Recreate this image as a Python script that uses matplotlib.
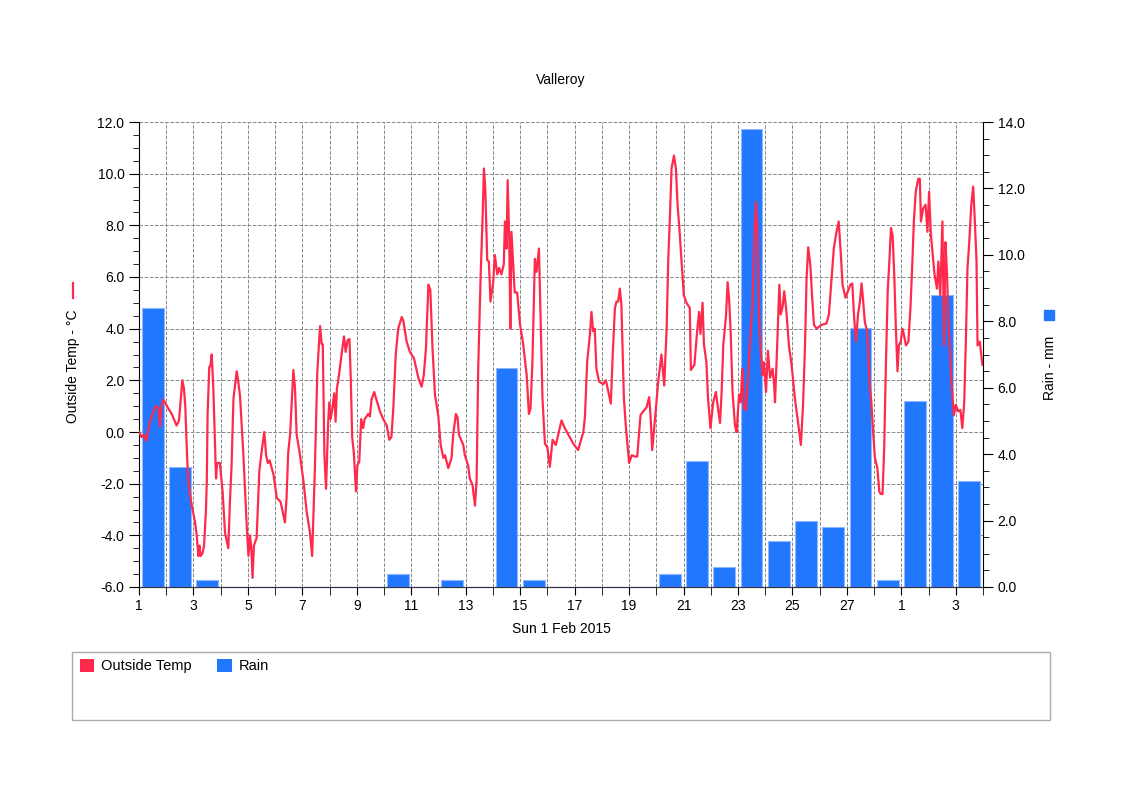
import matplotlib
matplotlib.use("Agg")
import matplotlib.pyplot as plt
import matplotlib.dates as mdates
from matplotlib.patches import Patch, Rectangle
from matplotlib.lines import Line2D
from matplotlib.ticker import MultipleLocator, FormatStrFormatter, FuncFormatter
from datetime import datetime, timedelta

plt.rcParams['font.family'] = ['Liberation Sans', 'DejaVu Sans']

# ---- data ----
start = datetime(2015, 2, 1)

rain_mm = [8.4, 3.6, 0.2, 0, 0, 0, 0, 0, 0, 0.4, 0, 0.2, 0, 6.6, 0.2, 0, 0, 0, 0,
           0.4, 3.8, 0.6, 13.8, 1.4, 2.0, 1.8, 7.8, 0.2, 5.6, 8.8, 3.2]

# time in days since 1 Feb 00:00, outside temperature in degC
temp_days = [
    0.00, 0.10, 0.18, 0.26, 0.33, 0.40, 0.50, 0.59, 0.66, 0.72, 0.77, 0.82, 0.89, 0.98,
    1.08, 1.20, 1.30, 1.38, 1.47, 1.55, 1.59, 1.65, 1.70, 1.76, 1.81, 1.93, 2.06, 2.12,
    2.18, 2.22, 2.26, 2.33, 2.39, 2.46, 2.49, 2.52, 2.58, 2.63, 2.67, 2.73, 2.83, 2.87,
    2.97, 3.07, 3.16, 3.28, 3.31, 3.34, 3.40, 3.47, 3.59, 3.64, 3.71, 3.83, 3.88, 3.96,
    4.02, 4.08, 4.13, 4.17, 4.22, 4.32, 4.42, 4.46, 4.50, 4.60, 4.67, 4.73, 4.80, 4.94,
    5.06, 5.20, 5.36, 5.42, 5.48, 5.55, 5.67, 5.73, 5.79, 5.90, 6.04, 6.16, 6.28, 6.36,
    6.46, 6.55, 6.65, 6.71, 6.75, 6.81, 6.87, 6.95, 6.99, 7.04, 7.10, 7.17, 7.22, 7.27,
    7.32, 7.44, 7.53, 7.59, 7.66, 7.73, 7.78, 7.83, 7.89, 7.97, 8.02, 8.09, 8.16, 8.23,
    8.29, 8.42, 8.48, 8.54, 8.64, 8.72, 8.85, 8.97, 9.10, 9.19, 9.27, 9.34, 9.43, 9.52,
    9.65, 9.71, 9.83, 9.95, 10.10, 10.26, 10.38, 10.46, 10.54, 10.63, 10.70, 10.78,
    10.87, 10.99, 11.08, 11.18, 11.24, 11.36, 11.48, 11.54, 11.64, 11.70, 11.75, 11.91,
    11.97, 12.09, 12.15, 12.25, 12.34, 12.40, 12.46, 12.55, 12.62, 12.67, 12.72, 12.79,
    12.85, 12.91, 13.01, 13.07, 13.16, 13.23, 13.31, 13.40, 13.44, 13.50, 13.54, 13.60,
    13.64, 13.68, 13.74, 13.80, 13.89, 13.99, 14.11, 14.24, 14.32, 14.38, 14.45, 14.54,
    14.60, 14.69, 14.75, 14.82, 14.91, 15.00, 15.09, 15.19, 15.31, 15.52, 15.64, 15.77,
    15.95, 16.13, 16.32, 16.38, 16.46, 16.56, 16.62, 16.68, 16.74, 16.80, 16.90, 17.05,
    17.15, 17.26, 17.33, 17.40, 17.48, 17.54, 17.60, 17.66, 17.72, 17.81, 17.88, 18.00,
    18.10, 18.22, 18.30, 18.42, 18.52, 18.64, 18.74, 18.79, 18.85, 18.91, 18.99, 19.07,
    19.19, 19.29, 19.38, 19.44, 19.50, 19.56, 19.65, 19.72, 19.78, 19.84, 19.93, 20.01,
    20.11, 20.23, 20.27, 20.40, 20.50, 20.57, 20.62, 20.70, 20.75, 20.84, 20.90, 20.99,
    21.09, 21.19, 21.28, 21.34, 21.40, 21.46, 21.56, 21.62, 21.68, 21.73, 21.80, 21.89,
    21.95, 22.04, 22.10, 22.16, 22.23, 22.29, 22.37, 22.43, 22.53, 22.59, 22.66, 22.72,
    22.77, 22.83, 22.90, 22.95, 23.03, 23.10, 23.18, 23.27, 23.33, 23.36, 23.44, 23.52,
    23.57, 23.64, 23.70, 23.78, 23.87, 23.97, 24.09, 24.21, 24.31, 24.39, 24.46, 24.52,
    24.58, 24.66, 24.72, 24.79, 24.89, 25.07, 25.25, 25.34, 25.42, 25.52, 25.61, 25.70,
    25.78, 25.84, 25.95, 26.04, 26.13, 26.20, 26.26, 26.33, 26.41, 26.48, 26.54, 26.60,
    26.66, 26.75, 26.83, 26.90, 26.97, 27.03, 27.12, 27.19, 27.24, 27.31, 27.37, 27.43,
    27.50, 27.56, 27.62, 27.68, 27.74, 27.80, 27.86, 27.91, 27.98, 28.04, 28.10, 28.17,
    28.26, 28.34, 28.41, 28.46, 28.53, 28.62, 28.68, 28.72, 28.80, 28.89, 28.96, 29.02,
    29.08, 29.14, 29.22, 29.31, 29.36, 29.43, 29.51, 29.57, 29.62, 29.68, 29.72, 29.78,
    29.84, 29.93, 30.00, 30.09, 30.17, 30.24, 30.31, 30.37, 30.43, 30.49, 30.57, 30.64,
    30.70, 30.76, 30.80, 30.88, 30.98]

temp_vals = [
    0.0, -0.2, -0.1, -0.35, 0.0, 0.4, 0.7, 0.95, 1.0, 0.9, 0.2, 0.9, 1.25, 1.1,
    0.9, 0.7, 0.45, 0.25, 0.45, 1.5, 2.0, 1.7, 1.0, -0.8, -1.9, -2.8, -3.5, -4.0,
    -4.8, -4.4, -4.8, -4.7, -4.4, -3.0, -1.9, 0.7, 2.5, 2.6, 3.0, 1.7, -1.8, -1.2,
    -1.2, -2.3, -3.9, -4.5, -3.6, -2.7, -1.3, 1.3, 2.35, 2.0, 1.4, -0.8, -1.9, -3.7,
    -4.8, -4.0, -4.6, -5.65, -4.4, -4.1, -1.5, -1.15, -0.8, 0.0, -0.9, -1.2, -1.1, -1.65,
    -2.55, -2.7, -3.5, -2.55, -0.8, -0.1, 2.4, 1.7, -0.1, -0.8, -1.9, -3.1, -3.9, -4.8,
    -1.4, 2.35, 4.1, 3.4, 3.4, -0.9, -2.2, 0.4, 1.15, 0.5, 0.9, 1.5, 0.4, 1.7,
    2.0, 3.0, 3.7, 3.1, 3.55, 3.6, 2.0, -0.2, -0.8, -2.3, -1.3, -1.15, 0.5, 0.15,
    0.5, 0.7, 0.6, 1.25, 1.55, 1.25, 0.8, 0.5, 0.25, -0.3, -0.2, 0.9, 3.0, 4.0,
    4.45, 4.3, 3.5, 3.1, 2.85, 2.1, 1.75, 2.2, 3.25, 5.7, 5.5, 3.25,
    1.45, 0.65, -0.5, -1.0, -0.9, -1.4, -1.0, -0.1, 0.7, 0.55, -0.1, -0.5,
    -0.9, -1.3, -1.8, -2.05, -2.85, -1.9, 2.5, 6.1, 8.3, 10.2, 9.4, 6.65,
    6.6, 5.05, 5.8, 6.85, 6.1, 6.35, 6.1, 6.5, 8.15, 7.1, 9.75, 7.4,
    4.0, 7.75, 6.6, 5.4, 5.4, 4.2, 3.4, 2.2, 0.7, 0.9, 2.7, 6.7,
    6.2, 7.1, 4.5, 1.3, -0.45, -0.6, -1.35, -0.3, -0.5, 0.45, 0.15, -0.1,
    -0.45, -0.7, 0.0, 0.6, 2.7, 3.75, 4.65, 3.9, 4.0, 2.45, 1.95, 1.85,
    2.0, 1.45, 1.1, 3.0, 4.8, 5.05, 5.05, 5.55, 4.9, 1.3, 0.25, -1.2,
    -0.9, -0.95, -0.95, 0.65, 0.8, 0.95, 1.35, 0.6, -0.7, 0.0, 0.95, 1.95,
    3.0, 1.8, 4.0, 6.7, 8.3, 10.2, 10.7, 10.2, 8.8, 8.0, 6.6, 5.3,
    5.0, 4.8, 2.4, 2.6, 3.9, 4.65, 3.8, 5.0, 3.4, 2.7, 1.3, 0.15,
    1.15, 1.55, 0.8, 0.35, 1.55, 3.35, 4.5, 5.8, 5.05, 3.9, 1.55, 0.25,
    0.0, 1.45, 1.15, 2.45, 0.9, 0.85, 2.1, 3.25, 4.9, 7.1, 8.9, 7.6,
    4.55, 3.25, 2.2, 2.7, 1.55, 3.15, 2.1, 2.45, 1.8, 1.15, 3.35, 5.7,
    4.55, 4.85, 5.45, 4.65, 3.35, 2.6, 1.3, 0.35, -0.5, 1.05, 3.25, 5.95,
    7.15, 6.45, 5.3, 4.15, 4.0, 4.15, 4.2, 4.55, 5.7, 7.1, 7.7, 8.15,
    6.85, 5.7, 5.2, 5.45, 5.7, 5.75, 4.55, 3.5, 4.55, 5.05, 5.75, 5.05,
    4.25, 3.9, 1.95, 1.15, -0.1, -1.0, -1.4, -2.3, -2.4, -2.4, -0.65, 2.45,
    5.45, 6.6, 7.9, 7.6, 6.1, 4.0, 2.35, 3.35, 3.5, 4.0, 3.75, 3.35,
    3.5, 4.9, 6.7, 8.15, 9.3, 9.8, 9.8, 8.15, 8.65, 8.8, 7.75, 9.3,
    7.75, 7.0, 6.1, 5.55, 6.6, 5.3, 8.15, 3.35, 7.35, 6.1, 4.55, 3.25,
    1.95, 0.65, 1.05, 0.8, 0.85, 0.15, 1.15, 3.5, 6.35, 7.25, 8.8, 9.5,
    8.15, 6.7, 3.35, 3.5, 2.6]

temp_color = '#FF2A4B'
rain_color = '#2277FF'

t0 = mdates.date2num(start)
rain_x = [t0 + i + 0.5 for i in range(len(rain_mm))]
temp_x = [t0 + d for d in temp_days]

# ---- figure ----
fig = plt.figure(figsize=(11.23, 7.94), dpi=100)
rect = [139 / 1123, 1 - 587 / 794, (983 - 139) / 1123, (587 - 122) / 794]

ax = fig.add_axes(rect)            # temp scale: grid + left axis
ax_rain = ax.twinx()               # rain bars, right axis
ax_line = ax.twinx()               # temp line on top of the bars

ax.set_xlim(t0, t0 + 31)
ax.set_ylim(-6, 12)
ax_rain.set_ylim(0, 14)
ax_line.set_ylim(-6, 12)

ax_rain.bar(rain_x, rain_mm, width=0.8, color=rain_color,
            edgecolor='#8DB8FF', linewidth=0.8)
ax_line.plot(temp_x, temp_vals, color=temp_color, linewidth=1.6)

# x axis
ax.xaxis.set_major_locator(mdates.DayLocator(bymonthday=range(1, 32, 2)))
ax.xaxis.set_minor_locator(mdates.DayLocator())
ax.xaxis.set_major_formatter(FuncFormatter(lambda v, p: str(mdates.num2date(v).day)))
ax.tick_params(axis='x', which='major', length=6, labelsize=10, pad=3)
ax.tick_params(axis='x', which='minor', length=6)

# left axis
ax.yaxis.set_major_locator(MultipleLocator(2))
ax.yaxis.set_minor_locator(MultipleLocator(0.5))
ax.yaxis.set_major_formatter(FormatStrFormatter('%.1f'))
ax.tick_params(axis='y', which='major', length=7, labelsize=10)
ax.tick_params(axis='y', which='minor', length=4)

# right axis
ax_rain.yaxis.set_major_locator(MultipleLocator(2))
ax_rain.yaxis.set_minor_locator(MultipleLocator(0.5))
ax_rain.yaxis.set_major_formatter(FormatStrFormatter('%.1f'))
ax_rain.tick_params(axis='y', which='major', length=7, labelsize=10)
ax_rain.tick_params(axis='y', which='minor', length=4)

ax_line.set_yticks([])
ax_line.axis('off')

# grid
ax.grid(True, which='major', axis='y', color='#888888', linestyle='--', linewidth=0.7)
ax.grid(True, which='both', axis='x', color='#888888', linestyle='--', linewidth=0.7)

for a in (ax, ax_rain):
    a.spines['top'].set_visible(False)
    a.spines['bottom'].set_color('#333344')
ax_rain.spines['left'].set_visible(False)
ax.spines['right'].set_visible(False)

# texts
fig.text(561 / 1123, 1 - 80 / 794, 'Valleroy', ha='center', va='center', fontsize=10)
fig.text(561 / 1123, 1 - 629 / 794, 'Sun 1 Feb 2015', ha='center', va='center', fontsize=10)
fig.text(73 / 1123, 1 - 366 / 794, 'Outside Temp - °C', rotation=90,
         ha='center', va='center', fontsize=10)
fig.add_artist(Line2D([73 / 1123, 73 / 1123], [1 - 283 / 794, 1 - 298 / 794],
                      color=temp_color, linewidth=1.6))
fig.text(1050 / 1123, 1 - 368 / 794, 'Rain - mm', rotation=90,
         ha='center', va='center', fontsize=10)
fig.add_artist(Rectangle((1044 / 1123, 1 - 320 / 794), 10 / 1123, 10 / 794,
                         color=rain_color, transform=fig.transFigure))

# legend box
fig.add_artist(Rectangle((72 / 1123, 1 - 720 / 794), (1050 - 72) / 1123, 68 / 794,
                         facecolor='none', edgecolor='#AAAAAA', linewidth=1,
                         transform=fig.transFigure))
handles = [Patch(facecolor=temp_color), Patch(facecolor=rain_color)]
fig.legend(handles, ['Outside Temp', 'Rain'], loc='upper left',
           bbox_to_anchor=(74 / 1123, 1 - 653 / 794), ncol=2, frameon=False,
           handlelength=1.0, handleheight=1.0, handletextpad=0.45,
           columnspacing=1.75, fontsize=10.5, borderaxespad=0)

fig.savefig('out.png', dpi=100)
